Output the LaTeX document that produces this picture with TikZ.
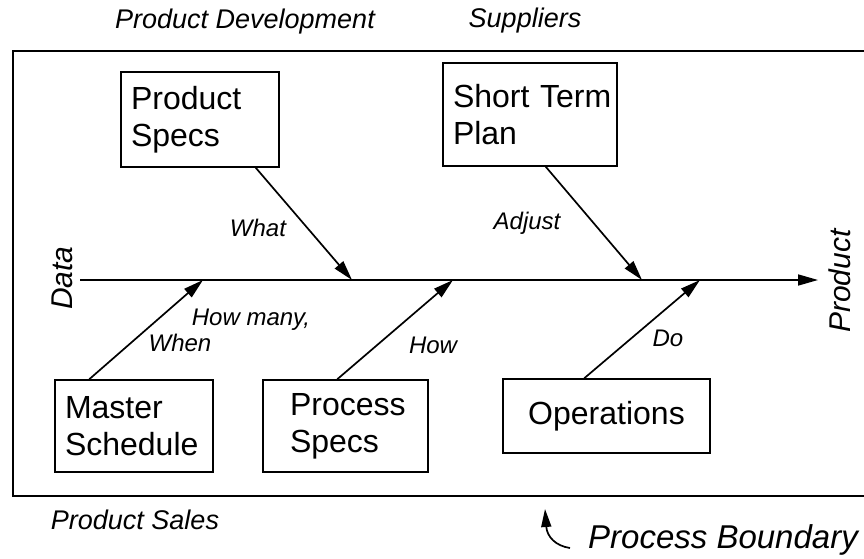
\documentclass[tikz,border=0pt]{standalone}
\usepackage{fontspec}
\setmainfont{Liberation Sans}
\usetikzlibrary{arrows.meta}
\begin{document}
\begin{tikzpicture}[x=1pt,y=-1pt,
  boxnode/.style={draw, line width=1.5pt, font=\fontsize{32}{37}\selectfont, align=left, inner ysep=0pt},
  link/.style={line width=1.7pt, -{Triangle[length=20pt,width=11pt]}},
  cue/.style={font=\fontsize{24}{28}\selectfont\itshape},
  side/.style={font=\fontsize{27}{31}\selectfont\itshape},
  axislbl/.style={font=\fontsize{30}{34}\selectfont\itshape, rotate=90},
]
\useasboundingbox (0,0) rectangle (864,559);

% process boundary frame (open on the right)
\draw[line width=1.5pt] (870,51) -- (13,51) -- (13,496) -- (870,496);

% cause boxes
\node[boxnode, text width=138pt, inner xsep=10pt, minimum height=95pt] (pspec) at (200,119.5) {Product\\Specs};
\node[boxnode, text width=154pt, inner xsep=10pt, minimum height=103pt] (stp) at (530,114.5) {Short~Term\\Plan};
\node[boxnode, text width=138pt, inner xsep=10pt, minimum height=92pt] (msch) at (134,426) {Master\\Schedule};
\node[boxnode, text width=111pt, inner xsep=27pt, minimum height=92pt] (prspec) at (345.5,426) {Process\\Specs};
\node[boxnode, text width=187pt, inner xsep=10pt, minimum height=74pt, align=center] (ops) at (606.5,416) {Operations};

% spine labels
\node[axislbl] (data) at (62,278) {Data};
\node[axislbl] (prod) at (840,281) {Product};

% spine and junctions
\coordinate (sp0) at (80,280);
\coordinate (sp1) at (818,280);
\coordinate (jWhat) at (352,280);
\coordinate (jAdj) at (642,280);
\coordinate (jHM) at (203,280);
\coordinate (jHow) at (453,280);
\coordinate (jDo) at (700,280);
\draw[link] (sp0) -- (sp1);

% branches
\draw[link] ([xshift=-24pt]pspec.south east) -- (jWhat);
\draw[link] ([xshift=-72pt]stp.south east) -- (jAdj);
\draw[link] ([xshift=35pt]msch.north west) -- (jHM);
\draw[link] ([xshift=75pt]prspec.north west) -- (jHow);
\draw[link] ([xshift=82pt]ops.north west) -- (jDo);

% branch labels
\node[cue] (lWhat) at (258,228) {What};
\node[cue] (lAdj) at (527,223) {Adjust};
\node[cue] (lHM) at (251,320) {How many,};
\node[cue] (lWhen) at (180,343) {When};
\node[cue] (lHow) at (433,345) {How};
\node[cue] (lDo) at (668,338) {Do};

% surrounding labels
\node[side] (pdev) at (245,22) {Product Development};
\node[side] (supp) at (525,21) {Suppliers};
\node[side] (sales) at (135,520) {Product Sales};
\node[font=\fontsize{33}{38}\selectfont\itshape] (pbound) at (723,540) {Process Boundary};

% pointer to the boundary
\coordinate (pbtail) at (570,548);
\coordinate (pbtip) at (545,509);
\draw[line width=1.7pt, -{Triangle[length=18pt,width=10pt]}] (pbtail) .. controls (556,546) and (547,537) .. (pbtip);
\end{tikzpicture}
\end{document}
